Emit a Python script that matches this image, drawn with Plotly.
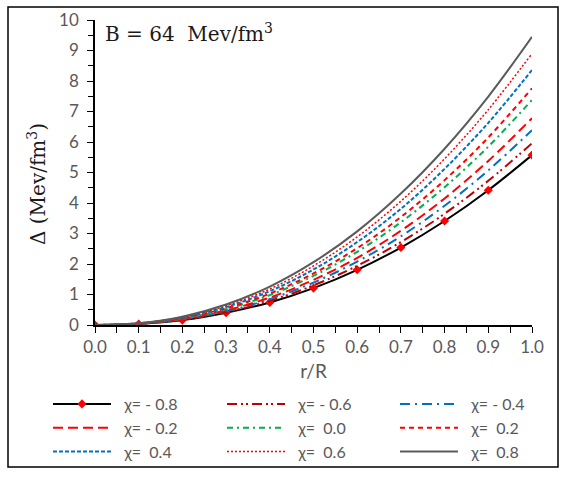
import plotly.graph_objects as go

r = [0.0, 0.1, 0.2, 0.3, 0.4, 0.5, 0.6, 0.7, 0.8, 0.9, 1.0]
chi_labels = ["χ= - 0.8", "χ= - 0.6", "χ= - 0.4", "χ= - 0.2", "χ=  0.0",
              "χ=  0.2", "χ=  0.4", "χ=  0.6", "χ=  0.8"]
d_m08 = [0.0, 0.035, 0.16, 0.40, 0.74, 1.21, 1.81, 2.54, 3.41, 4.42, 5.57]
d_m06 = [0.0, 0.04, 0.17, 0.42, 0.79, 1.30, 1.94, 2.72, 3.65, 4.73, 5.96]
d_m04 = [0.0, 0.04, 0.19, 0.45, 0.85, 1.39, 2.08, 2.91, 3.91, 5.07, 6.39]
d_m02 = [0.0, 0.04, 0.20, 0.48, 0.90, 1.48, 2.20, 3.09, 4.15, 5.38, 6.78]
d_p00 = [0.0, 0.05, 0.21, 0.52, 0.98, 1.61, 2.40, 3.37, 4.52, 5.85, 7.38]
d_p02 = [0.0, 0.05, 0.23, 0.55, 1.03, 1.69, 2.52, 3.54, 4.75, 6.15, 7.76]
d_p04 = [0.0, 0.05, 0.24, 0.59, 1.11, 1.82, 2.72, 3.81, 5.12, 6.63, 8.36]
d_p06 = [0.0, 0.06, 0.26, 0.63, 1.18, 1.94, 2.89, 4.06, 5.45, 7.06, 8.90]
d_p08 = [0.0, 0.06, 0.27, 0.67, 1.26, 2.06, 3.07, 4.31, 5.78, 7.49, 9.45]
series = [d_m08, d_m06, d_m04, d_m02, d_p00, d_p02, d_p04, d_p06, d_p08]

colors = ["#000000", "#C00000", "#0070C0", "#FF0000", "#00B050",
          "#FF0000", "#0070C0", "#FF0000", "#5A5A5A"]
dashes = ["solid", "10px,4px,2px,3px,2px,4px", "10px,5px,2px,5px", "10px,5px",
          "6px,4px,2px,4px", "5px,4px", "4px,2px", "2px,2px", "solid"]
widths = [2, 2, 2, 2, 2, 2, 2, 1.5, 2]
legend_ids = ["legend", "legend2", "legend3"] * 3

W, H = 570, 480
L, R, T, B = 95, 38, 20, 155
pw, ph = W - L - R, H - T - B


def px(x):
    return (x - L) / pw


def py(y):
    return (H - B - y) / ph


fig = go.Figure()
for i, (lab, ys) in enumerate(zip(chi_labels, series)):
    kw = {}
    mode = "lines"
    if i == 0:
        mode = "lines+markers"
        kw["marker"] = dict(symbol="diamond", size=7, color="#FF0000")
    fig.add_trace(go.Scatter(
        x=r, y=ys, name="  " + lab, mode=mode, legend=legend_ids[i],
        line=dict(color=colors[i], dash=dashes[i], width=widths[i], shape="spline"),
        **kw))

leg_common = dict(orientation="v", xanchor="left", yanchor="top",
                  tracegroupgap=0, font=dict(size=16, color="#595959"),
                  itemwidth=58, bgcolor="rgba(0,0,0,0)", traceorder="normal")

fig.update_layout(
    width=W, height=H,
    margin=dict(l=L, r=R, t=T, b=B, autoexpand=False),
    paper_bgcolor="white", plot_bgcolor="white",
    font=dict(family="Lato, Open Sans, sans-serif", color="#595959", size=16),
    xaxis=dict(range=[0, 1], tickvals=[i / 10 for i in range(11)],
               ticktext=[f"{i / 10:.1f}" for i in range(11)],
               showgrid=False, zeroline=False, showline=True, linecolor="black",
               linewidth=1.5, ticks="outside", ticklen=6, tickcolor="black",
               minor=dict(dtick=0.05, ticks="outside", ticklen=6, tickcolor="black"),
               tickfont=dict(size=17),
               title=dict(text="r/R", font=dict(size=19), standoff=9)),
    yaxis=dict(range=[0, 10], dtick=1, showgrid=False, zeroline=False,
               showline=True, linecolor="black", linewidth=1.5,
               ticks="outside", ticklen=6, tickcolor="black", ticklabelstandoff=5,
               minor=dict(dtick=0.5, ticks="outside", ticklen=5, tickcolor="black"),
               tickfont=dict(size=17)),
    legend=dict(x=px(48), y=py(387), **leg_common),
    legend2=dict(x=px(222), y=py(387), **leg_common),
    legend3=dict(x=px(395), y=py(387), **leg_common),
    showlegend=True,
)

fig.add_annotation(x=px(103), y=py(33), xref="paper", yref="paper",
                   xanchor="left", yanchor="middle", showarrow=False,
                   text="B = 64  Mev/fm<sup>3</sup>",
                   font=dict(family="DejaVu Serif, Liberation Serif, serif", size=20,
                             color="#1a1a1a"))
fig.add_annotation(x=px(37), y=py(184), xref="paper", yref="paper",
                   xanchor="center", yanchor="middle", showarrow=False,
                   textangle=-90, text="Δ (Mev/fm<sup>3</sup>)",
                   font=dict(family="DejaVu Serif, Liberation Serif, serif", size=20,
                             color="#1a1a1a"))
fig.add_shape(type="rect", xref="paper", yref="paper",
              x0=px(8), x1=px(558), y0=py(467), y1=py(7),
              line=dict(color="black", width=1.5), fillcolor="rgba(0,0,0,0)")

fig.write_html("out.html")
